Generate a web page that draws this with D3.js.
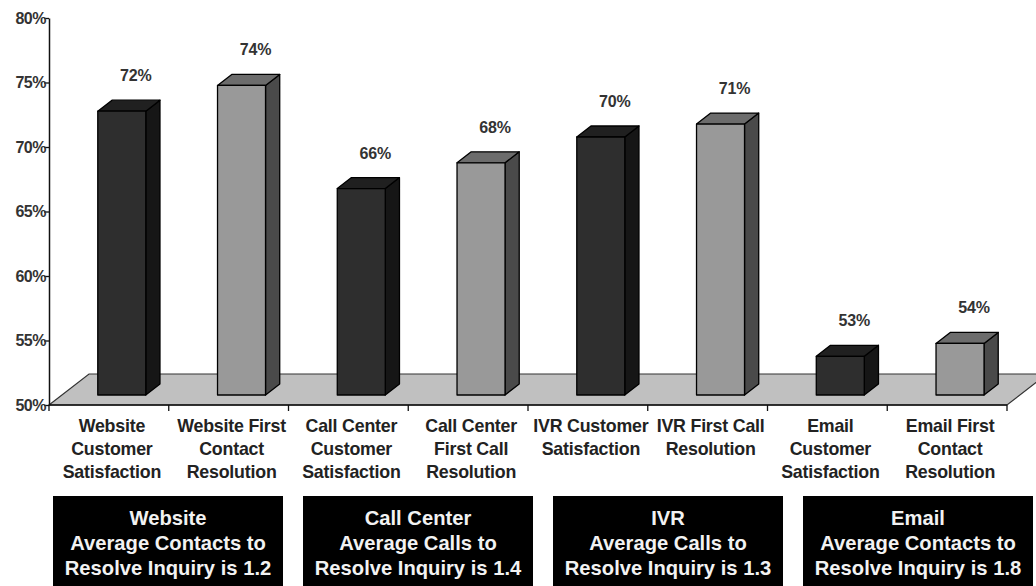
<!DOCTYPE html>
<html>
<head>
<meta charset="utf-8">
<script src="https://cdn.jsdelivr.net/npm/d3@7"></script>
<style>
  html, body { margin: 0; padding: 0; background: #fff; }
  svg { display: block; font-family: "Liberation Sans", Arial, sans-serif; }
</style>
</head>
<body>
<svg id="chart" width="1036" height="586"></svg>
<script>
// ---- data ----
const categories = [
  "Website Customer Satisfaction",
  "Website First Contact Resolution",
  "Call Center Customer Satisfaction",
  "Call Center First Call Resolution",
  "IVR Customer Satisfaction",
  "IVR First Call Resolution",
  "Email Customer Satisfaction",
  "Email First Contact Resolution"
];
const categoryLines = [
  ["Website", "Customer", "Satisfaction"],
  ["Website First", "Contact", "Resolution"],
  ["Call Center", "Customer", "Satisfaction"],
  ["Call Center", "First Call", "Resolution"],
  ["IVR Customer", "Satisfaction"],
  ["IVR First Call", "Resolution"],
  ["Email", "Customer", "Satisfaction"],
  ["Email First", "Contact", "Resolution"]
];
const values = [72, 74, 66, 68, 70, 71, 53, 54];
const seriesType = ["sat", "res", "sat", "res", "sat", "res", "sat", "res"];
const yTicks = [50, 55, 60, 65, 70, 75, 80];
const groups = ["Website", "Call Center", "IVR", "Email"];
const groupNotes = [
  ["Website", "Average Contacts to", "Resolve Inquiry is 1.2"],
  ["Call Center", "Average Calls to", "Resolve Inquiry is 1.4"],
  ["IVR", "Average Calls to", "Resolve Inquiry is 1.3"],
  ["Email", "Average Contacts to", "Resolve Inquiry is 1.8"]
];

// ---- layout ----
const svg = d3.select("#chart");
const axisX = 49, axisRight = 1007, baseY = 405, topY = 18;
const floorDY = 31, floorDX = 40;          // floor depth
const barFrontDY = 10, barDepthDY = 11;     // bar placement in depth
const k = floorDX / floorDY;
const barW = 48;

const x = d3.scaleBand().domain(categories).range([axisX, axisRight]).padding(0);
const y = d3.scaleLinear().domain([50, 80]).range([baseY, topY]);

const colors = {
  sat: { front: "#2e2e2e", top: "#202020", side: "#161616" },
  res: { front: "#999999", top: "#6c6c6c", side: "#4a4a4a" }
};

// floor
const fl = [
  [axisX, baseY],
  [axisX + floorDX, baseY - floorDY],
  [axisRight + floorDX, baseY - floorDY],
  [axisRight, baseY]
];
svg.append("polygon")
  .attr("points", fl.map(p => p.join(",")).join(" "))
  .attr("fill", "#c0c0c0")
  .attr("stroke", "#333")
  .attr("stroke-width", 1.2);

// bars
const bars = svg.append("g");
categories.forEach((c, i) => {
  const v = values[i];
  const col = colors[seriesType[i]];
  const cx = x(c) + x.bandwidth() / 2 + barFrontDY * k;
  const x0 = cx - barW / 2, x1 = cx + barW / 2;
  const yt = y(v) - barFrontDY;
  const yb = baseY - barFrontDY;
  const ddx = barDepthDY * k, ddy = barDepthDY;
  const g = bars.append("g").attr("stroke", "#000").attr("stroke-width", 1.3).attr("stroke-linejoin", "round");
  g.append("polygon")
    .attr("points", [[x1, yt], [x1 + ddx, yt - ddy], [x1 + ddx, yb - ddy], [x1, yb]].map(p => p.join(",")).join(" "))
    .attr("fill", col.side);
  g.append("polygon")
    .attr("points", [[x0, yt], [x0 + ddx, yt - ddy], [x1 + ddx, yt - ddy], [x1, yt]].map(p => p.join(",")).join(" "))
    .attr("fill", col.top);
  g.append("rect")
    .attr("x", x0).attr("y", yt).attr("width", barW).attr("height", yb - yt)
    .attr("fill", col.front);
  svg.append("text")
    .attr("x", cx + 14)
    .attr("y", y(v) - 40)
    .attr("text-anchor", "middle")
    .attr("font-size", 16)
    .attr("font-weight", "bold")
    .attr("fill", "#333")
    .attr("letter-spacing", "-0.2")
    .text(v + "%");
});

// y axis
const yAxis = svg.append("g")
  .attr("transform", `translate(${axisX},0)`)
  .call(d3.axisLeft(y).tickValues(yTicks).tickFormat(d => d + "%").tickSize(5).tickSizeOuter(0));
yAxis.select(".domain").attr("stroke", "#111").attr("stroke-width", 1.5);
yAxis.selectAll(".tick line").attr("stroke", "#111").attr("stroke-width", 1.3);
yAxis.selectAll(".tick text")
  .attr("x", -3)
  .attr("font-size", 16)
  .attr("font-weight", "bold")
  .attr("letter-spacing", "-0.5")
  .attr("fill", "#333")
  .attr("font-family", "'Liberation Sans', Arial, sans-serif");

// x axis ticks at band boundaries
const bounds = categories.map(c => x(c)).concat([axisRight]);
svg.append("g").selectAll("line").data(bounds).join("line")
  .attr("x1", d => d).attr("x2", d => d)
  .attr("y1", baseY).attr("y2", baseY + 6)
  .attr("stroke", "#111").attr("stroke-width", 1.3);
svg.append("line")
  .attr("x1", axisX).attr("x2", axisRight).attr("y1", baseY).attr("y2", baseY)
  .attr("stroke", "#111").attr("stroke-width", 1.5);

// x labels
const xl = svg.append("g");
categories.forEach((c, i) => {
  const t = xl.append("text")
    .attr("text-anchor", "middle")
    .attr("font-size", 17.8)
    .attr("font-weight", "bold")
    .attr("fill", "#222")
    .attr("letter-spacing", "-0.2");
  categoryLines[i].forEach((ln, j) => {
    t.append("tspan")
      .attr("x", x(c) + x.bandwidth() / 2 + 3)
      .attr("y", 432 + j * 23)
      .text(ln);
  });
});

// group note boxes
const gx = d3.scaleBand().domain(groups).range([53, 1033]).paddingInner(0.08);
groups.forEach((gname, i) => {
  svg.append("rect")
    .attr("x", gx(gname)).attr("y", 496)
    .attr("width", gx.bandwidth()).attr("height", 90)
    .attr("fill", "#000");
  const t = svg.append("text")
    .attr("text-anchor", "middle")
    .attr("font-size", 20.2)
    .attr("font-weight", "bold")
    .attr("fill", "#f2f2f2");
  groupNotes[i].forEach((ln, j) => {
    t.append("tspan")
      .attr("x", gx(gname) + gx.bandwidth() / 2)
      .attr("y", 525 + j * 25)
      .text(ln);
  });
});
</script>
</body>
</html>
